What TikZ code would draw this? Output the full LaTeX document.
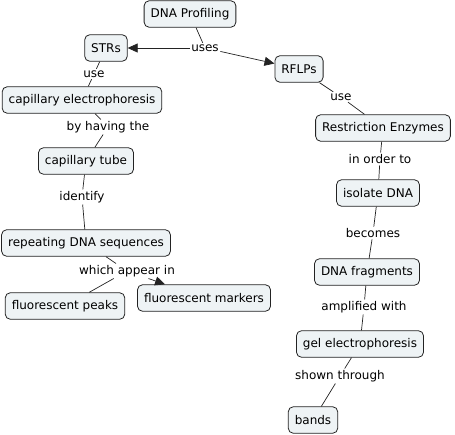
\documentclass[tikz,border=0pt]{standalone}
\usepackage{fontspec}
\setmainfont{DejaVu Sans}
\usetikzlibrary{arrows.meta}
\definecolor{CmapFill}{RGB}{238,243,245}
\definecolor{CmapLine}{RGB}{35,35,35}
\tikzset{
  concept/.style={rectangle, rounded corners=5pt, draw=CmapLine, fill=CmapFill,
                  line width=0.8pt, minimum height=26.5pt, inner xsep=6.5pt,
                  font=\fontsize{12}{14}\selectfont, text=black},
  linkword/.style={fill=white, inner sep=1.5pt,
                   font=\fontsize{12}{14}\selectfont, text=black},
  link/.style={draw=CmapLine, line width=0.7pt},
  arr/.style={link, -{Triangle[length=10pt, width=9pt]}},
}

\begin{document}
\begin{tikzpicture}[x=1pt, y=-1pt]
  \useasboundingbox (0,0) rectangle (455,434);

  % concepts
  \node[concept] (prof)  at (190,14)  {DNA Profiling};
  \node[concept] (strs)  at (106,48)  {STRs};
  \node[concept] (rflps) at (299,69)  {RFLPs};
  \node[concept] (capel) at (82,100)  {capillary electrophoresis};
  \node[concept] (renz)  at (383,128) {Restriction Enzymes};
  \node[concept] (tube)  at (86,161)  {capillary tube};
  \node[concept] (iso)   at (378,193) {isolate DNA};
  \node[concept] (rep)   at (86,243)  {repeating DNA sequences};
  \node[concept] (frag)  at (367,272) {DNA fragments};
  \node[concept] (mark)  at (204,298) {fluorescent markers};
  \node[concept] (peaks) at (65,306)  {fluorescent peaks};
  \node[concept] (gel)   at (360,344) {gel electrophoresis};
  \node[concept] (bands) at (313,420) {bands};

  % linking words
  \node[linkword] (uses)   at (205,48)  {uses};
  \node[linkword] (use1)   at (94,74)   {use};
  \node[linkword] (use2)   at (341,97)  {use};
  \node[linkword] (having) at (108,127) {by having the};
  \node[linkword] (order)  at (380,159) {in order to};
  \node[linkword] (ident)  at (82,197)  {identify};
  \node[linkword] (becom)  at (373,233) {becomes};
  \node[linkword] (appear) at (127,271) {which appear in};
  \node[linkword] (ampl)   at (364,307) {amplified with};
  \node[linkword] (shown)  at (340,376) {shown through};

  % connections
  \draw[link] (prof) -- (uses);
  \draw[arr]  (uses) -- (strs);
  \draw[arr]  (uses) -- (rflps);
  \draw[link] (strs) -- (use1);
  \draw[link] (use1) -- (capel);
  \draw[link] (capel) -- (having);
  \draw[link] (having) -- (tube);
  \draw[link] (tube) -- (ident);
  \draw[link] (ident) -- (rep);
  \draw[link] (rep) -- (appear);
  \draw[arr]  (appear) -- (mark);
  \draw[link] (appear) -- (peaks);
  \draw[link] (rflps) -- (use2);
  \draw[link] (use2) -- (renz);
  \draw[link] (renz) -- (order);
  \draw[link] (order) -- (iso);
  \draw[link] (iso) -- (becom);
  \draw[link] (becom) -- (frag);
  \draw[link] (frag) -- (ampl);
  \draw[link] (ampl) -- (gel);
  \draw[link] (gel) -- (shown);
  \draw[link] (shown) -- (bands);
\end{tikzpicture}
\end{document}
